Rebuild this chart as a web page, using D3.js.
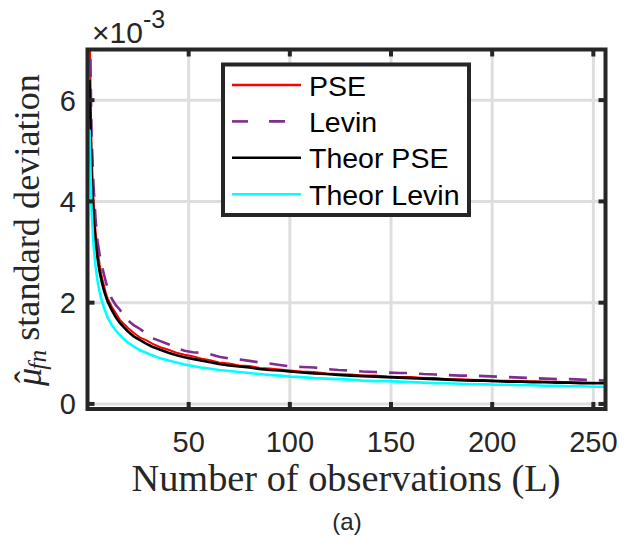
<!DOCTYPE html>
<html lang="en">

<head>
    <meta charset="UTF-8">
    <title>PSE vs Levin standard deviation</title>
    <script src="https://d3js.org/d3.v7.min.js"></script>
    <style>
        body { margin: 0; background: #fff; }
        text { fill: #262626; }
    </style>
</head>

<body>
    <div id="chart"></div>

    <script>
        const width = 632;
        const height = 542;

        // number of observations L (shared by all series)
        const obsL = [1, 2, 3, 4, 5, 6, 7, 8, 9, 10, 12, 14, 16, 18, 20, 23, 26, 29, 32, 36,
            40, 44, 48, 52, 56, 60, 65, 70, 75, 80, 85, 90, 95, 100, 106, 112, 118, 124, 130, 136,
            142, 148, 154, 160, 166, 172, 178, 184, 190, 196, 202, 208, 214, 220, 226, 232, 238, 244, 250, 256];

        // standard deviation values, x 1e-3
        const pse = [7.6, 5.0, 4.0, 3.4, 3.05, 2.75, 2.52, 2.36, 2.2, 2.08, 1.92, 1.79, 1.66, 1.58, 1.50, 1.40, 1.31, 1.26, 1.19, 1.12,
            1.07, 1.01, 0.97, 0.94, 0.90, 0.87, 0.82, 0.80, 0.76, 0.75, 0.71, 0.70, 0.68, 0.66, 0.64, 0.63, 0.60, 0.59, 0.58, 0.56,
            0.56, 0.54, 0.53, 0.53, 0.51, 0.51, 0.49, 0.49, 0.48, 0.47, 0.46, 0.46, 0.45, 0.45, 0.44, 0.44, 0.43, 0.43, 0.42, 0.42];

        const levin = [8.0, 5.3, 4.3, 3.65, 3.2, 2.95, 2.75, 2.58, 2.42, 2.28, 2.08, 1.95, 1.86, 1.74, 1.65, 1.55, 1.48, 1.39, 1.30, 1.24,
            1.18, 1.10, 1.05, 1.02, 1.01, 0.99, 0.93, 0.90, 0.88, 0.85, 0.82, 0.80, 0.77, 0.74, 0.73, 0.72, 0.69, 0.67, 0.66, 0.64,
            0.63, 0.62, 0.61, 0.61, 0.59, 0.58, 0.57, 0.56, 0.56, 0.55, 0.54, 0.53, 0.52, 0.51, 0.50, 0.49, 0.49, 0.48, 0.47, 0.46];

        const theorPse = [6.40, 4.53, 3.70, 3.20, 2.86, 2.61, 2.42, 2.26, 2.13, 2.02, 1.85, 1.71, 1.60, 1.51, 1.43, 1.33, 1.26, 1.19, 1.13, 1.07,
            1.01, 0.96, 0.92, 0.89, 0.86, 0.83, 0.79, 0.76, 0.74, 0.72, 0.69, 0.67, 0.66, 0.64, 0.62, 0.60, 0.59, 0.57, 0.56, 0.55,
            0.54, 0.53, 0.52, 0.51, 0.50, 0.49, 0.48, 0.47, 0.46, 0.46, 0.45, 0.44, 0.44, 0.43, 0.43, 0.42, 0.42, 0.41, 0.41, 0.41];

        const theorLevin = [5.42, 3.83, 3.13, 2.71, 2.42, 2.21, 2.05, 1.92, 1.81, 1.71, 1.56, 1.45, 1.36, 1.28, 1.21, 1.13, 1.06, 1.01, 0.96, 0.90,
            0.86, 0.82, 0.78, 0.75, 0.72, 0.70, 0.67, 0.65, 0.63, 0.61, 0.59, 0.57, 0.56, 0.54, 0.53, 0.51, 0.50, 0.49, 0.48, 0.46,
            0.45, 0.45, 0.44, 0.43, 0.42, 0.41, 0.41, 0.40, 0.39, 0.39, 0.38, 0.38, 0.37, 0.37, 0.36, 0.36, 0.35, 0.35, 0.34, 0.34];

        const seriesNames = ["PSE", "Levin", "Theor PSE", "Theor Levin"];
        const seriesColors = ["#ff0000", "#7e2f8e", "#000000", "#00ffff"];

        const xTicks = [50, 100, 150, 200, 250];
        const yTicks = [0, 2, 4, 6];

        const margin = { top: 49.5, right: 26.5, bottom: 133, left: 87.5 };
        const plotW = width - margin.left - margin.right;
        const plotH = height - margin.top - margin.bottom;

        const svg = d3.select("#chart")
            .append("svg")
            .attr("width", width)
            .attr("height", height)
            .style("display", "block");

        const x = d3.scaleLinear().domain([0, 256]).range([margin.left, margin.left + plotW]);
        const y = d3.scaleLinear().domain([-0.1, 7]).range([margin.top + plotH, margin.top]);

        svg.append("clipPath").attr("id", "plot-clip")
            .append("rect")
            .attr("x", margin.left).attr("y", margin.top)
            .attr("width", plotW).attr("height", plotH);

        // grid
        const grid = svg.append("g").attr("stroke", "#dedede").attr("stroke-width", 3);
        grid.selectAll(".gx").data(xTicks).enter().append("line")
            .attr("x1", d => x(d)).attr("x2", d => x(d))
            .attr("y1", margin.top).attr("y2", margin.top + plotH);
        grid.selectAll(".gy").data(yTicks).enter().append("line")
            .attr("x1", margin.left).attr("x2", margin.left + plotW)
            .attr("y1", d => y(d)).attr("y2", d => y(d));

        // curves
        const allSeries = [pse, levin, theorPse, theorLevin];
        const line = d3.line()
            .x((d, i) => x(obsL[i]))
            .y(d => y(d));

        const curves = svg.append("g").attr("clip-path", "url(#plot-clip)");
        allSeries.forEach((vals, k) => {
            curves.append("path")
                .datum(vals)
                .attr("fill", "none")
                .attr("stroke", seriesColors[k])
                .attr("stroke-width", k === 0 ? 2 : 2.6)
                .attr("stroke-dasharray", k === 1 ? "18,12" : null)
                .attr("d", line);
        });

        // axes (box with ticks on all four sides)
        const axisColor = "#262626";
        svg.append("rect")
            .attr("x", margin.left).attr("y", margin.top)
            .attr("width", plotW).attr("height", plotH)
            .attr("fill", "none").attr("stroke", axisColor).attr("stroke-width", 4);

        const ticks = svg.append("g").attr("stroke", axisColor).attr("stroke-width", 4);
        xTicks.forEach(t => {
            ticks.append("line").attr("x1", x(t)).attr("x2", x(t))
                .attr("y1", margin.top + plotH).attr("y2", margin.top + plotH - 7);
            ticks.append("line").attr("x1", x(t)).attr("x2", x(t))
                .attr("y1", margin.top).attr("y2", margin.top + 7);
        });
        yTicks.forEach(t => {
            ticks.append("line").attr("x1", margin.left).attr("x2", margin.left + 7)
                .attr("y1", y(t)).attr("y2", y(t));
            ticks.append("line").attr("x1", margin.left + plotW).attr("x2", margin.left + plotW - 7)
                .attr("y1", y(t)).attr("y2", y(t));
        });

        const sans = "'Liberation Sans', Arial, sans-serif";
        const serif = "'Liberation Serif', 'Times New Roman', serif";

        svg.selectAll(".xtick").data(xTicks).enter().append("text")
            .attr("x", d => x(d)).attr("y", 451.5)
            .attr("text-anchor", "middle")
            .style("font-family", sans).style("font-size", "29px")
            .text(d => d);

        svg.selectAll(".ytick").data(yTicks).enter().append("text")
            .attr("x", 76).attr("y", d => y(d) + 10.5)
            .attr("text-anchor", "end")
            .style("font-family", sans).style("font-size", "29px")
            .text(d => d);

        // exponent label
        const expo = svg.append("text")
            .attr("x", 92).attr("y", 43)
            .style("font-family", sans).style("font-size", "30px");
        expo.append("tspan").text("\u00d710");
        expo.append("tspan").attr("dy", -15).style("font-size", "25px").text("-3");

        // fit a text element to a given length by tuning its font size
        function fitText(sel, target) {
            const fs = parseFloat(sel.style("font-size"));
            const w = sel.node().getComputedTextLength();
            sel.style("font-size", (fs * target / w) + "px");
        }

        const xLabel = svg.append("text")
            .attr("x", 346).attr("y", 491)
            .attr("text-anchor", "middle")
            .style("font-family", serif).style("font-size", "34px")
            .text("Number of observations (L)");
        fitText(xLabel, 429);

        // y label: mu-hat with subscript fn, then plain text
        const yLabel = svg.append("text")
            .attr("transform", "translate(41,230) rotate(-90)")
            .attr("text-anchor", "middle")
            .style("font-family", serif).style("font-size", "34px");
        yLabel.append("tspan").style("font-style", "italic").text("\u03bc");
        yLabel.append("tspan").attr("dx", "-0.42em").attr("dy", "-0.02em").text("\u02c6");
        yLabel.append("tspan").style("font-style", "italic").style("font-size", "0.7em")
            .attr("dx", "0.05em").attr("dy", "0.22em").text("fn");
        yLabel.append("tspan").attr("dy", "-0.2em").text(" standard deviation");
        fitText(yLabel, 326);

        svg.append("text")
            .attr("x", 347).attr("y", 530)
            .attr("text-anchor", "middle")
            .style("font-family", sans).style("font-size", "24px")
            .text("(a)");

        // legend
        const legend = svg.append("g");
        legend.append("rect")
            .attr("x", 223).attr("y", 64.5)
            .attr("width", 246).attr("height", 150.5)
            .attr("fill", "#fff").attr("stroke", axisColor).attr("stroke-width", 4);

        seriesNames.forEach((name, i) => {
            const ly = 85 + i * 36.4;
            legend.append("line")
                .attr("x1", 232).attr("x2", 301)
                .attr("y1", ly).attr("y2", ly)
                .attr("stroke", seriesColors[i])
                .attr("stroke-width", 2.6)
                .attr("stroke-dasharray", i === 1 ? "16,21" : null);
            legend.append("text")
                .attr("x", 309).attr("y", ly + 10.5)
                .style("font-family", sans).style("font-size", "28.5px")
                .style("fill", "#000")
                .text(name);
        });
    </script>
</body>

</html>
